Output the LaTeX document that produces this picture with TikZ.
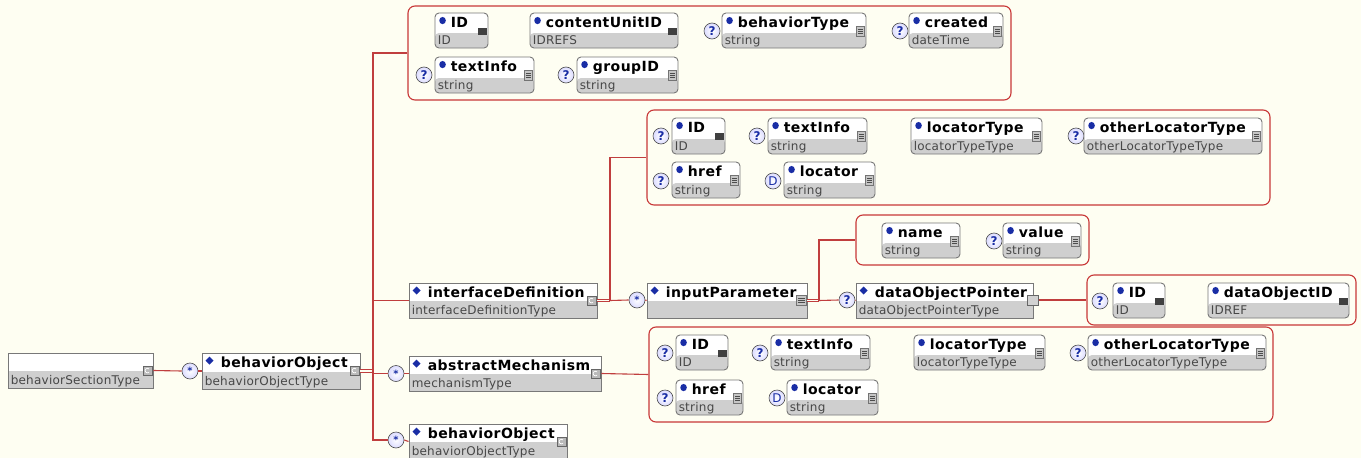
\documentclass[tikz,border=0pt]{standalone}
\usepackage{fontspec}
\setmainfont{DejaVu Sans}
\newfontfamily\ttlfont[LetterSpace=3.5]{DejaVu Sans}
\newfontfamily\typfont[LetterSpace=2]{DejaVu Sans}
\usetikzlibrary{calc}
\definecolor{bg}{RGB}{254,254,242}
\definecolor{linered}{RGB}{192,62,62}
\definecolor{grpred}{RGB}{200,55,55}
\definecolor{boxline}{RGB}{120,120,120}
\definecolor{typegray}{RGB}{207,207,207}
\definecolor{dblue}{RGB}{25,45,165}
\tikzset{
  elbox/.style={rectangle, draw=boxline, line width=.9pt, fill=white, inner sep=0,
    path picture={\fill[typegray] ([yshift=17.5pt]path picture bounding box.south west) rectangle (path picture bounding box.south east);}},
  atbox/.style={rectangle, rounded corners=4pt, draw=boxline, line width=.9pt, fill=white, inner sep=0,
    path picture={\fill[typegray] ([yshift=15pt]path picture bounding box.south west) rectangle (path picture bounding box.south east);}},
  grp/.style={rectangle, rounded corners=7pt, draw=grpred, line width=1.1pt, inner sep=0},
  ttl/.style={font=\ttlfont\fontsize{14}{16}\selectfont\bfseries, inner sep=0},
  typ/.style={font=\typfont\fontsize{12}{13}\selectfont, text=black!72, inner sep=0},
  conn/.style={draw=linered, line width=1.1pt},
  dconn/.style={draw=linered, line width=.9pt, double=bg, double distance=1.3pt},
  markc/.style={circle, draw=gray!60!black, line width=.6pt, inner color=white, outer color=blue!14,
    minimum size=16pt, inner sep=0, text=dblue},
  qm/.style={markc, font=\fontsize{12}{12}\selectfont\bfseries},
  st/.style={markc, font=\fontsize{10}{10}\selectfont\bfseries},
  dm/.style={markc, font=\fontsize{12}{12}\selectfont},
  idicon/.style={rectangle, fill=black!75, minimum width=9pt, minimum height=7pt, inner sep=0},
  sicon/.style={rectangle, fill=gray!45, draw=black!55, line width=.4pt, minimum width=8pt, minimum height=10pt, inner sep=0,
    path picture={\foreach \f in {0.28,0.5,0.72}{\draw[black!70,line width=.7pt] ($(path picture bounding box.south west)!\f!(path picture bounding box.north west)+(1.4pt,0)$) -- ($(path picture bounding box.south east)!\f!(path picture bounding box.north east)+(-1.4pt,0)$);}}},
  picon/.style={sicon, minimum width=10pt},
  cicon/.style={rectangle, fill=gray!55, draw=black!60, line width=.4pt, minimum size=9pt, inner sep=0,
    path picture={\draw[white, line width=.7pt] ([shift={(1.6pt,1.6pt)}]path picture bounding box.center) arc[start angle=45, end angle=315, radius=2.3pt];}},
  eicon/.style={rectangle, fill=gray!35, draw=black!60, line width=.6pt, minimum width=11pt, minimum height=10pt, inner sep=0},
  noicon/.style={inner sep=0, minimum size=0pt},
}
% element box: name, x1, y1, x2, y2, title, type, icon
\newcommand\elem[8]{%
  \node[elbox, minimum width={#4-#2}, minimum height={#5-#3}] (#1) at ({(#2+#4)/2},{(#3+#5)/2}) {};
  \fill[dblue] ([shift={(8,4)}]#1.north west) -- ++(4,4) -- ++(-4,4) -- ++(-4,-4) -- cycle;
  \node[ttl, anchor=base west] (#1t) at ([shift={(19,15)}]#1.north west) {#6};
  \node[typ, anchor=base west] (#1y) at ([shift={(3,-4)}]#1.south west) {#7};
  \node[#8] (#1i) at ([shift={(-6,18)}]#1.north east) {};
}
% attribute box: name, x1, y1, x2, y2, title, type, icon
\newcommand\attr[8]{%
  \node[atbox, minimum width={#4-#2}, minimum height={#5-#3}] (#1) at ({(#2+#4)/2},{(#3+#5)/2}) {};
  \fill[dblue] ([shift={(8,8)}]#1.north west) ellipse (3.3 and 3.6);
  \node[ttl, anchor=base west] (#1t) at ([shift={(16,15)}]#1.north west) {#6};
  \node[typ, anchor=base west] (#1y) at ([shift={(3,-4)}]#1.south west) {#7};
  \node[#8] (#1i) at ([shift={(-6,19)}]#1.north east) {};
}
\newcommand\grpbox[5]{%
  \node[grp, minimum width={#4-#2}, minimum height={#5-#3}] (#1) at ({(#2+#4)/2},{(#3+#5)/2}) {};
}
\begin{document}
\begin{tikzpicture}[x=1pt,y=-1pt]
\fill[bg] (0,0) rectangle (1361,458);
\useasboundingbox (0,0) rectangle (1361,458);

% groups
\grpbox{g1}{408}{6}{1011}{100}
\grpbox{g2}{647}{110}{1270}{205}
\grpbox{g3}{856}{215}{1089}{265}
\grpbox{g4}{1087}{275}{1356}{325}
\grpbox{g5}{649}{327}{1273}{422}

% root
\node[elbox, minimum width=145, minimum height=35] (root) at (80.5,370.5) {};
\node[typ, anchor=base west] (rooty) at ([shift={(3,-4)}]root.south west) {behaviorSectionType};
\node[cicon] (rooti) at ([shift={(-6,18)}]root.north east) {};

% elements
\elem{bo}{202}{353}{360}{389}{behaviorObject}{behaviorObjectType}{cicon}
\elem{idf}{409}{283}{597}{318}{interfaceDefinition}{interfaceDefinitionType}{cicon}
\elem{ip}{647}{283}{807}{318}{inputParameter}{}{picon}
\elem{dop}{856}{283}{1033}{318}{dataObjectPointer}{dataObjectPointerType}{noicon}
\elem{am}{409}{356}{601}{391}{abstractMechanism}{mechanismType}{cicon}
\elem{bo2}{409}{424}{567}{459}{behaviorObject}{behaviorObjectType}{cicon}
\node[eicon] (dopi) at (1033,300) {};

% markers
\node[st] (s1) at (190,371) {*};
\node[st] (s2) at (637,300) {*};
\node[st] (s3) at (396,373.5) {*};
\node[st] (s4) at (396,440) {*};
\node[qm] (qdop) at (847,300) {?};

% group 1
\attr{a1}{435}{13}{488}{48}{ID}{ID}{idicon}
\attr{a2}{530}{13}{678}{48}{contentUnitID}{IDREFS}{idicon}
\node[qm] (qa3) at (712,31) {?};
\attr{a3}{722}{13}{866}{48}{behaviorType}{string}{sicon}
\node[qm] (qa4) at (900,31) {?};
\attr{a4}{909}{13}{1003}{48}{created}{dateTime}{sicon}
\node[qm] (qa5) at (424,75) {?};
\attr{a5}{435}{57}{534}{93}{textInfo}{string}{sicon}
\node[qm] (qa6) at (566,75) {?};
\attr{a6}{577}{57}{678}{93}{groupID}{string}{sicon}

% group 2
\node[qm] (qb1) at (661,136) {?};
\attr{b1}{672}{118}{725}{154}{ID}{ID}{idicon}
\node[qm] (qb2) at (757,136) {?};
\attr{b2}{768}{118}{867}{154}{textInfo}{string}{sicon}
\attr{b3}{911}{118}{1042}{154}{locatorType}{locatorTypeType}{sicon}
\node[qm] (qb4) at (1076,136) {?};
\attr{b4}{1084}{118}{1262}{154}{otherLocatorType}{otherLocatorTypeType}{sicon}
\node[qm] (qb5) at (661,181) {?};
\attr{b5}{672}{162}{740}{198}{href}{string}{sicon}
\node[dm] (qb6) at (773,181) {D};
\attr{b6}{784}{162}{875}{198}{locator}{string}{sicon}

% group 3
\attr{c1}{882}{223}{960}{258}{name}{string}{sicon}
\node[qm] (qc2) at (994,241) {?};
\attr{c2}{1003}{223}{1081}{258}{value}{string}{sicon}

% group 4
\node[qm] (qd1) at (1100,301) {?};
\attr{d1}{1113}{283}{1165}{318}{ID}{ID}{idicon}
\attr{d2}{1208}{283}{1349}{318}{dataObjectID}{IDREF}{idicon}

% group 5
\node[qm] (qe1) at (665,353) {?};
\attr{e1}{676}{335}{728}{370}{ID}{ID}{idicon}
\node[qm] (qe2) at (760,353) {?};
\attr{e2}{771}{335}{870}{370}{textInfo}{string}{sicon}
\attr{e3}{914}{335}{1045}{370}{locatorType}{locatorTypeType}{sicon}
\node[qm] (qe4) at (1078,353) {?};
\attr{e4}{1088}{335}{1266}{370}{otherLocatorType}{otherLocatorTypeType}{sicon}
\node[qm] (qe5) at (665,398) {?};
\attr{e5}{676}{380}{743}{415}{href}{string}{sicon}
\node[dm] (qe6) at (777,398) {D};
\attr{e6}{787}{380}{878}{415}{locator}{string}{sicon}

% connectors
\coordinate (busx) at (373,371);
\coordinate (j1) at (610,300.5);
\coordinate (j2) at (819,300.5);
\draw[conn] (root.east) -- (s1.west);
\draw[conn] (s1.east) -- (bo.west);
\draw[dconn] (bo.east) -- (busx);
\draw[conn] (g1.west) -| (busx) |- (s4.west);
\draw[conn] (busx) |- (idf.west);
\draw[conn] (busx) |- (s3.west);
\draw[conn] (s3.east) -- (am.west);
\draw[conn] (s4.east) -- (bo2.west);
\draw[dconn] (idf.east) -- (j1);
\draw[conn] (j1) |- (g2.west);
\draw[conn] (j1) -- (s2.west);
\draw[conn] (s2.east) -- (ip.west);
\draw[dconn] (ip.east) -- (j2);
\draw[conn] (j2) |- (g3.west);
\draw[conn] (j2) -- (qdop.west);
\draw[conn] (qdop.east) -- (dop.west);
\draw[conn] (dopi.east) -- (g4.west);
\draw[conn] (am.east) -- (g5.west);
\end{tikzpicture}
\end{document}
